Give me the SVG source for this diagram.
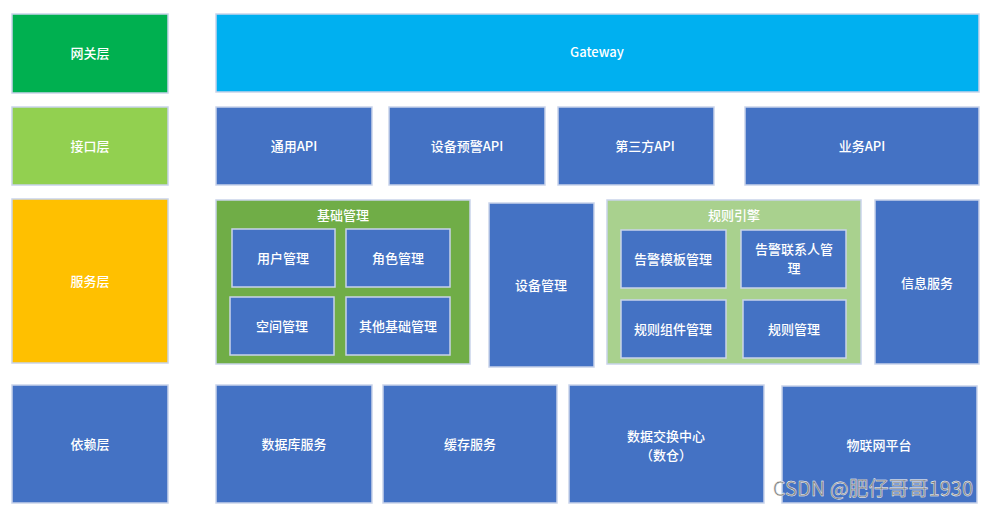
<svg xmlns="http://www.w3.org/2000/svg" width="989" height="509" viewBox="0 0 989 509">
<style>
.b{stroke:#c9d3ea;stroke-width:1.5}
.blue{fill:#4472c4}
.t{font-family:"Microsoft YaHei","Noto Sans CJK SC","Noto Sans",sans-serif;font-size:13px;font-weight:500;fill:#ffffff;text-anchor:middle;dominant-baseline:central}
.wm{font-family:"Noto Sans CJK SC","Noto Sans",sans-serif;font-size:20px;fill:#808080;stroke:#ffffff;stroke-width:0.4;text-anchor:end}
</style>
<rect width="989" height="509" fill="#ffffff"/>
<g id="layer-gateway"><rect class="b" x="12" y="14" width="156" height="79" fill="#00b050"/><text class="t" x="90" y="52">网关层</text></g>
<g id="gateway"><rect class="b" x="216" y="14" width="763" height="78" fill="#00b0f0"/><text class="t" x="597" y="51">Gateway</text></g>
<g id="layer-api"><rect class="b" x="12" y="107" width="156" height="78" fill="#92d050"/><text class="t" x="90" y="145">接口层</text></g>
<g id="api-common"><rect class="b blue" x="216" y="107" width="156" height="78"/><text class="t" x="294" y="145">通用API</text></g>
<g id="api-device"><rect class="b blue" x="389" y="107" width="156" height="78"/><text class="t" x="467" y="145">设备预警API</text></g>
<g id="api-third"><rect class="b blue" x="558" y="107" width="156" height="78"/><text class="t" x="645" y="145">第三方API</text></g>
<g id="api-biz"><rect class="b blue" x="745" y="107" width="234" height="78"/><text class="t" x="862" y="145">业务API</text></g>
<g id="layer-service"><rect class="b" x="12" y="199" width="156" height="164" fill="#ffc000"/><text class="t" x="90" y="280">服务层</text></g>
<g id="base-mgmt"><rect class="b" x="216" y="200" width="254" height="164" fill="#70ad47"/><text class="t" x="343" y="214">基础管理</text>
<g id="user-mgmt"><rect class="b blue" x="232" y="229" width="103" height="58"/><text class="t" x="283" y="257">用户管理</text></g>
<g id="role-mgmt"><rect class="b blue" x="346" y="229" width="104" height="58"/><text class="t" x="398" y="257">角色管理</text></g>
<g id="space-mgmt"><rect class="b blue" x="230" y="297" width="104" height="58"/><text class="t" x="282" y="325">空间管理</text></g>
<g id="other-mgmt"><rect class="b blue" x="346" y="297" width="104" height="58"/><text class="t" x="398" y="325">其他基础管理</text></g>
</g>
<g id="device-mgmt"><rect class="b blue" x="489" y="203" width="105" height="164"/><text class="t" x="541" y="284">设备管理</text></g>
<g id="rule-engine"><rect class="b" x="607" y="200" width="254" height="164" fill="#a9d18e"/><text class="t" x="734" y="214">规则引擎</text>
<g id="alarm-tpl"><rect class="b blue" x="621" y="230" width="105" height="58"/><text class="t" x="673" y="258">告警模板管理</text></g>
<g id="alarm-contact"><rect class="b blue" x="741" y="230" width="105" height="58"/><text class="t" x="794" y="248">告警联系人管</text><text class="t" x="794" y="267">理</text></g>
<g id="rule-comp"><rect class="b blue" x="621" y="300" width="105" height="58"/><text class="t" x="673" y="328">规则组件管理</text></g>
<g id="rule-mgmt"><rect class="b blue" x="743" y="300" width="103" height="58"/><text class="t" x="794" y="328">规则管理</text></g>
</g>
<g id="info-service"><rect class="b blue" x="875" y="200" width="104" height="164"/><text class="t" x="927" y="282">信息服务</text></g>
<g id="layer-dep"><rect class="b blue" x="12" y="385" width="156" height="118"/><text class="t" x="90" y="443">依赖层</text></g>
<g id="db-service"><rect class="b blue" x="216" y="385" width="156" height="118"/><text class="t" x="294" y="443">数据库服务</text></g>
<g id="cache-service"><rect class="b blue" x="383" y="385" width="174" height="118"/><text class="t" x="470" y="443">缓存服务</text></g>
<g id="data-exchange"><rect class="b blue" x="569" y="385" width="195" height="118"/><text class="t" x="666" y="435">数据交换中心</text><text class="t" x="666" y="454">（数仓）</text></g>
<g id="iot-platform"><rect class="b blue" x="782" y="386" width="195" height="117"/><text class="t" x="879" y="444">物联网平台</text></g>
<g id="connectors"></g>
<text class="wm" x="973" y="496">CSDN @肥仔哥哥1930</text>
</svg>
